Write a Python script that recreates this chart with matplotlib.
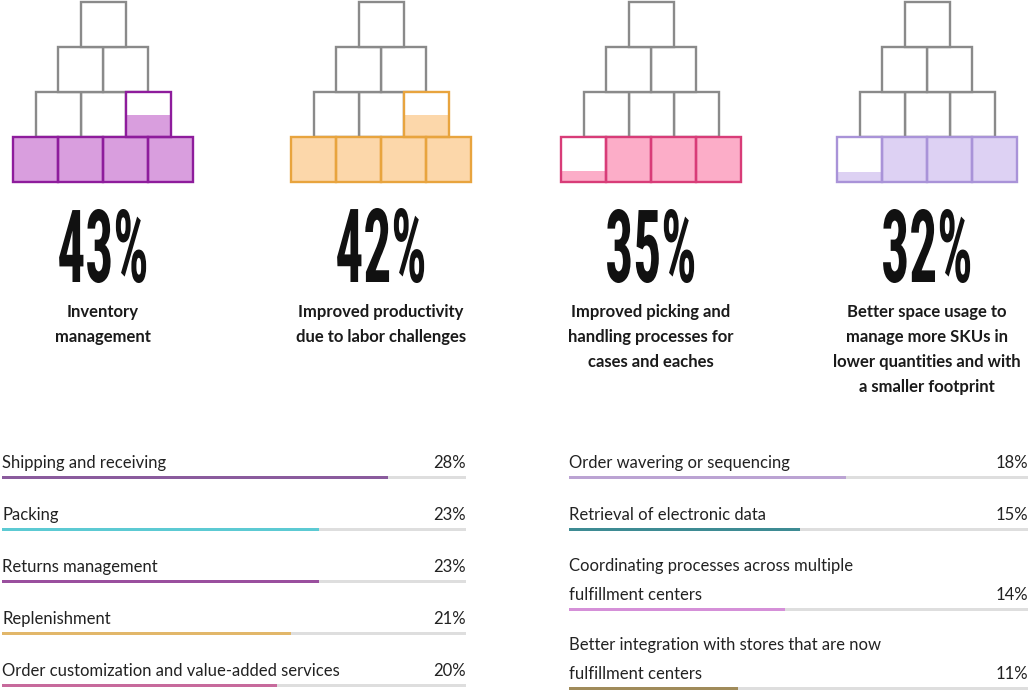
import matplotlib
matplotlib.use("Agg")
import matplotlib.pyplot as plt
from matplotlib.patches import Rectangle
from matplotlib.patheffects import AbstractPathEffect
from matplotlib.transforms import Affine2D
from matplotlib import font_manager as fm
from matplotlib.textpath import TextPath

# ---------------- data ----------------
pyr_values = [43, 42, 35, 32]
pyr_partial = [0.5, 0.5, 0.25, 0.22]   # fill level of the partly filled box
pyr_labels = [
    "Inventory\nmanagement",
    "Improved productivity\ndue to labor challenges",
    "Improved picking and\nhandling processes for\ncases and eaches",
    "Better space usage to\nmanage more SKUs in\nlower quantities and with\na smaller footprint",
]
pyr_edge = ["#8e1c9c", "#e8a43e", "#d83c78", "#a993d8"]
pyr_fill = ["#d99ede", "#fcd7aa", "#fcadc8", "#ddd1f3"]

left_labels = [
    "Shipping and receiving",
    "Packing",
    "Returns management",
    "Replenishment",
    "Order customization and value-added services",
]
left_values = [28, 23, 23, 21, 20]
left_colors = ["#8a5b9d", "#5ccad3", "#9a4f9e", "#e2b76a", "#c76a9c"]

right_labels = [
    "Order wavering or sequencing",
    "Retrieval of electronic data",
    "Coordinating processes across multiple\nfulfillment centers",
    "Better integration with stores that are now\nfulfillment centers",
]
right_values = [18, 15, 14, 11]
right_colors = ["#bba3d3", "#3e8b93", "#d590d8", "#a08b5a"]

# ---------------- layout helpers ----------------
W, H = 1030, 690
fig = plt.figure(figsize=(W / 100, H / 100), dpi=100)
fig.patch.set_facecolor("white")


def px_axes(x0, y0, x1, y1):
    """axes from pixel box (top-left origin)"""
    return fig.add_axes([x0 / W, 1 - y1 / H, (x1 - x0) / W, (y1 - y0) / H])


def has_font(name):
    try:
        fm.findfont(fm.FontProperties(family=name), fallback_to_default=False)
        return True
    except Exception:
        return False


big_family = "DejaVu Sans"
for cand in ["Roboto Condensed", "Liberation Sans Narrow", "DejaVu Sans"]:
    if has_font(cand):
        big_family = cand
        break


class Condense(AbstractPathEffect):
    """Draw text glyphs scaled (condensed) about their centre / baseline.
    The text itself stays a Text artist."""

    def __init__(self, sx, sy=1.0):
        super().__init__()
        self.sx = sx
        self.sy = sy

    def draw_path(self, renderer, gc, tpath, affine, rgbFace=None):
        ext = tpath.get_extents()
        cx = (ext.x0 + ext.x1) / 2
        t = Affine2D().translate(-cx, 0).scale(self.sx, self.sy).translate(cx, 0) + affine
        renderer.draw_path(gc, tpath, t, rgbFace)


# full-figure axes for free text
tax = fig.add_axes([0, 0, 1, 1])
tax.set_xlim(0, W)
tax.set_ylim(H, 0)
tax.axis("off")

# ---------------- pyramids ----------------
centers = [103, 381, 651, 927]
BOX = 45.0
GRAY = "#8a8a8a"
BIG_FS = 36.0
big_prop = fm.FontProperties(family=big_family, weight="bold", size=BIG_FS)

for i, c in enumerate(centers):
    ax = px_axes(c - 99, 0, c + 99, 190)
    ax.set_xlim(-2.2, 2.2)
    ax.set_ylim(-8 / BOX, 182 / BOX)
    ax.axis("off")
    full = pyr_values[i] // 10
    # box order: bottom row right->left, then next row right->left ...
    boxes = []
    for r in range(4):
        n = 4 - r
        left = -n / 2
        for k in reversed(range(n)):
            boxes.append((left + k, r))
    gray_boxes, col_boxes = [], []
    for idx, (bx, by) in enumerate(boxes):
        if idx < full:
            col_boxes.append((bx, by, 1.0))
        elif idx == full:
            col_boxes.append((bx, by, pyr_partial[i]))
        else:
            gray_boxes.append((bx, by))
    for bx, by in gray_boxes:
        ax.add_patch(Rectangle((bx, by), 1, 1, facecolor="white", edgecolor=GRAY,
                               linewidth=1.7, zorder=1))
    for bx, by, f in col_boxes:
        ax.add_patch(Rectangle((bx, by), 1, 1, facecolor="white", edgecolor="none", zorder=2))
        ax.add_patch(Rectangle((bx, by), 1, f, facecolor=pyr_fill[i], edgecolor="none", zorder=3))
    for bx, by, f in col_boxes:
        ax.add_patch(Rectangle((bx, by), 1, 1, facecolor="none", edgecolor=pyr_edge[i],
                               linewidth=1.7, zorder=4))

    # big percentage: scale glyphs so the ink is ~87 px wide, ~74 px tall
    s = f"{pyr_values[i]}%"
    ink = TextPath((0, 0), s, prop=big_prop).get_extents()
    ink_w = ink.width * 100 / 72
    ink_h = TextPath((0, 0), s[:-1], prop=big_prop).get_extents().height * 100 / 72
    sx = 87.0 / ink_w
    sy = 74.0 / ink_h
    tax.text(c, 282, s, ha="center", va="baseline", fontproperties=big_prop,
             color="#111111", path_effects=[Condense(sx, sy)])
    # subtitle
    tax.text(c, 304, pyr_labels[i], ha="center", va="top", fontsize=12,
             fontweight="bold", family="Lato", color="#1a1a1a", linespacing=1.695)

# ---------------- bar lists ----------------
TRACK = "#dedede"


def bar_list(x0, x1, vmax, labels, values, colors, bar_y):
    ax = px_axes(x0, 440, x1, 690)
    ax.set_xlim(0, vmax)
    ax.set_ylim(690, 440)
    ax.axis("off")
    ax.barh(bar_y, [vmax] * len(values), height=3, left=0, color=TRACK, zorder=1)
    ax.barh(bar_y, values, height=3, left=0, color=colors, zorder=2)
    for y, lab, v in zip(bar_y, labels, values):
        ax.text(0, y - 6.5, lab, ha="left", va="bottom", fontsize=12, family="Lato",
                color="#222222", linespacing=2.03, clip_on=False)
        ax.text(vmax, y - 6.5, f"{v}%", ha="right", va="bottom", fontsize=12,
                family="Lato", color="#222222", clip_on=False)
    return ax


bar_list(2, 466, 33.7, left_labels, left_values, left_colors, [478, 530, 582, 634, 686])
bar_list(569, 1028, 29.8, right_labels, right_values, right_colors, [478, 530, 610, 689])

fig.savefig("out.png", dpi=100, facecolor="white")
